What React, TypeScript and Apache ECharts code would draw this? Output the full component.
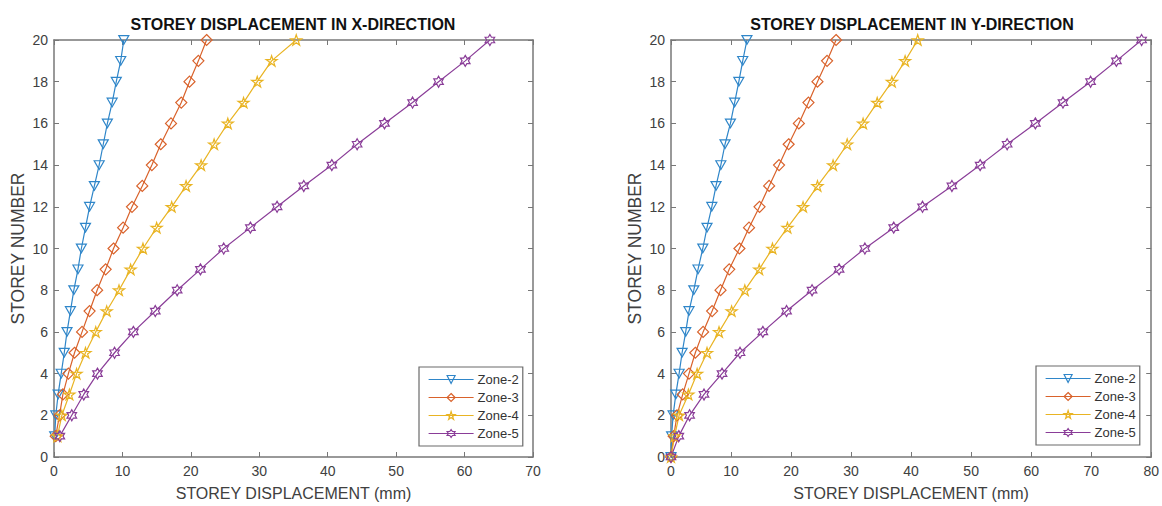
import React, { useEffect, useRef } from "react";
import * as echarts from "echarts";

const zones = ["Zone-2", "Zone-3", "Zone-4", "Zone-5"];
const colors = ["#2f86c9", "#d9622b", "#e9b423", "#8a3d98"];

// X-direction (storeys 1..20)
const storeysX = [1, 2, 3, 4, 5, 6, 7, 8, 9, 10, 11, 12, 13, 14, 15, 16, 17, 18, 19, 20];
const xZone2 = [0.1, 0.26, 0.6, 1.05, 1.5, 1.9, 2.4, 2.9, 3.5, 4.0, 4.6, 5.2, 5.9, 6.6, 7.2, 7.8, 8.5, 9.1, 9.75, 10.2];
const xZone3 = [0.25, 0.8, 1.3, 2.1, 3.0, 4.1, 5.2, 6.3, 7.55, 8.7, 10.1, 11.4, 12.9, 14.3, 15.6, 17.1, 18.6, 19.8, 21.1, 22.3];
const xZone4 = [0.5, 1.15, 2.25, 3.3, 4.6, 6.1, 7.7, 9.5, 11.2, 13.0, 15.0, 17.2, 19.3, 21.5, 23.4, 25.4, 27.7, 29.7, 31.8, 35.4];
const xZone5 = [0.85, 2.6, 4.35, 6.35, 8.85, 11.6, 14.8, 18.0, 21.4, 24.8, 28.7, 32.6, 36.5, 40.6, 44.3, 48.3, 52.4, 56.2, 60.1, 63.7];

// Y-direction (storeys 0..20)
const storeysY = [0, 1, 2, 3, 4, 5, 6, 7, 8, 9, 10, 11, 12, 13, 14, 15, 16, 17, 18, 19, 20];
const yZone2 = [0, 0.1, 0.35, 0.8, 1.35, 1.85, 2.45, 3.0, 3.8, 4.5, 5.3, 6.0, 6.8, 7.5, 8.3, 9.0, 9.9, 10.6, 11.3, 11.95, 12.65];
const yZone3 = [0, 0.45, 1.0, 1.95, 3.0, 4.05, 5.35, 6.85, 8.25, 9.7, 11.4, 13.0, 14.75, 16.35, 18.0, 19.6, 21.3, 22.9, 24.4, 26.0, 27.5];
const yZone4 = [0, 0.6, 1.35, 2.9, 4.35, 6.0, 8.0, 10.1, 12.3, 14.7, 16.9, 19.4, 22.0, 24.4, 27.0, 29.35, 32.0, 34.35, 36.8, 39.0, 41.1];
const yZone5 = [0, 1.3, 3.1, 5.5, 8.5, 11.5, 15.3, 19.25, 23.5, 28.0, 32.3, 37.1, 41.9, 46.8, 51.5, 56.0, 60.7, 65.3, 69.9, 74.2, 78.4];

const xTitle = "STOREY DISPLACEMENT IN X-DIRECTION";
const yTitle = "STOREY DISPLACEMENT IN Y-DIRECTION";
const xAxisName = "STOREY DISPLACEMENT (mm)";
const yAxisName = "STOREY NUMBER";

function starPath(n: number, inner: number): string {
  const pts: string[] = [];
  for (let i = 0; i < 2 * n; i++) {
    const r = i % 2 === 0 ? 1 : inner;
    const a = -Math.PI / 2 + (i * Math.PI) / n;
    pts.push(`${(r * Math.cos(a)).toFixed(4)} ${(r * Math.sin(a)).toFixed(4)}`);
  }
  return "path://M" + pts.join(" L") + " Z";
}

const pentagram = starPath(5, 0.382);
const hexagram = starPath(6, 0.577);
const downTri = "path://M0 10 L-5.77 0 L5.77 0 Z";

const symbols = [downTri, "diamond", pentagram, hexagram];
const sizes = [10, 11, 11, 11];

const FONT = "Liberation Sans, Arial, sans-serif";
const AXIS_COLOR = "#777777";
const TEXT_COLOR = "#404040";

function makeSeries(xs: number[][], ys: number[], axisIdx: number) {
  return xs.map((vals, i) => ({
    name: zones[i],
    type: "line",
    xAxisIndex: axisIdx,
    yAxisIndex: axisIdx,
    data: vals.map((v, k) => [v, ys[k]]),
    symbol: symbols[i],
    symbolSize: sizes[i],
    symbolKeepAspect: true,
    clip: false,
    color: colors[i],
    lineStyle: { color: colors[i], width: 1.2 },
    itemStyle: { color: "rgba(255,255,255,0)", borderColor: colors[i], borderWidth: 1.2 },
    emphasis: { disabled: true },
  }));
}

function xAxes(gridIndex: number, max: number) {
  const common = {
    type: "value",
    gridIndex,
    min: 0,
    max,
    interval: 10,
    splitLine: { show: false },
    axisLine: { show: true, onZero: false, lineStyle: { color: AXIS_COLOR, width: 1.5 } },
    axisTick: { show: true, inside: true, length: 5, lineStyle: { color: AXIS_COLOR, width: 1 } },
  };
  return [
    {
      ...common,
      position: "bottom",
      name: xAxisName,
      nameLocation: "middle",
      nameGap: 28,
      nameTextStyle: { fontFamily: FONT, fontSize: 16, color: TEXT_COLOR },
      axisLabel: { fontFamily: FONT, fontSize: 14, color: TEXT_COLOR, margin: 7 },
    },
    { ...common, position: "top", axisLabel: { show: false } },
  ];
}

function yAxes(gridIndex: number) {
  const common = {
    type: "value",
    gridIndex,
    min: 0,
    max: 20,
    interval: 2,
    splitLine: { show: false },
    axisLine: { show: true, onZero: false, lineStyle: { color: AXIS_COLOR, width: 1.5 } },
    axisTick: { show: true, inside: true, length: 5, lineStyle: { color: AXIS_COLOR, width: 1 } },
  };
  return [
    {
      ...common,
      position: "left",
      name: yAxisName,
      nameLocation: "middle",
      nameGap: 27,
      nameRotate: 90,
      nameTextStyle: { fontFamily: FONT, fontSize: 17.5, color: TEXT_COLOR },
      axisLabel: { fontFamily: FONT, fontSize: 14, color: TEXT_COLOR, margin: 6 },
    },
    { ...common, position: "right", axisLabel: { show: false } },
  ];
}

function legend(left: number, top: number) {
  return {
    orient: "vertical",
    left,
    top,
    data: zones,
    itemWidth: 45,
    itemHeight: 10,
    itemGap: 5,
    padding: [6, 4, 6, 9],
    backgroundColor: "#ffffff",
    borderColor: "#6a6a6a",
    borderWidth: 1.2,
    selectedMode: false,
    itemStyle: { color: "rgba(255,255,255,0)", borderWidth: 1.2 },
    lineStyle: { width: 1.2 },
    textStyle: { fontFamily: FONT, fontSize: 13, color: "#333333", padding: [0, 0, 0, -1] },
  };
}

export default function App() {
  const ref = useRef<HTMLDivElement>(null);
  useEffect(() => {
    if (!ref.current) return;
    const chart = echarts.init(ref.current, null, { renderer: "svg" });
    chart.setOption({
      animation: false,
      backgroundColor: "#ffffff",
      grid: [
        { left: 54, top: 40, width: 479, height: 419 },
        { left: 671, top: 40, width: 482, height: 419 },
      ],
      xAxis: [...xAxes(0, 70), ...xAxes(1, 80)],
      yAxis: [...yAxes(0), ...yAxes(1)],
      legend: [legend(419, 367), legend(1036, 366)],
      graphic: [
        {
          type: "text",
          x: 293,
          y: 24,
          style: {
            text: xTitle,
            fontFamily: FONT,
            fontSize: 16,
            fontWeight: "bold",
            fill: "#111111",
            textAlign: "center",
            textVerticalAlign: "middle",
          },
        },
        {
          type: "text",
          x: 912,
          y: 24,
          style: {
            text: yTitle,
            fontFamily: FONT,
            fontSize: 16,
            fontWeight: "bold",
            fill: "#111111",
            textAlign: "center",
            textVerticalAlign: "middle",
          },
        },
      ],
      series: [
        ...makeSeries([xZone2, xZone3, xZone4, xZone5], storeysX, 0),
        ...makeSeries([yZone2, yZone3, yZone4, yZone5], storeysY, 2),
      ],
    });
    return () => chart.dispose();
  }, []);
  return (
    <div
      ref={ref}
      style={{ position: "fixed", left: 0, top: 0, width: 1162, height: 506, background: "#fff" }}
    />
  );
}
